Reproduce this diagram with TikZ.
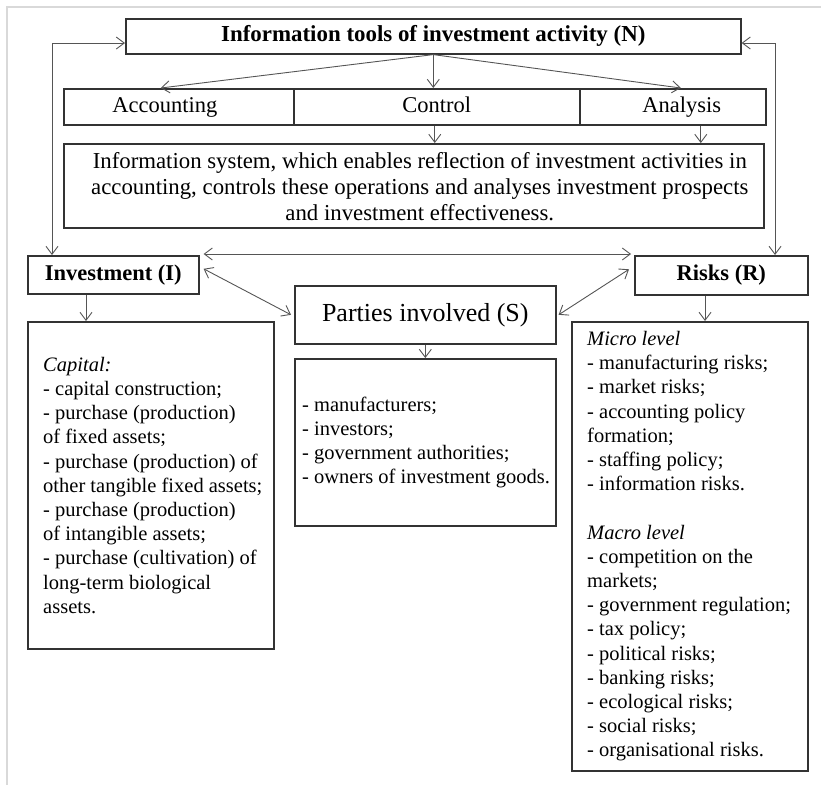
\documentclass[tikz,border=0pt]{standalone}
\usepackage{fontspec}
\setmainfont{Liberation Serif}
\usetikzlibrary{arrows.meta,calc}
\definecolor{boxc}{HTML}{333333}
\definecolor{linec}{HTML}{555555}
\definecolor{framec}{HTML}{D9D9D9}
\begin{document}
\begin{tikzpicture}[x=1pt,y=-1pt,
  box/.style={draw=boxc, line width=1.6pt, rectangle, inner sep=0pt, anchor=north west, text=black},
  oneline/.style={inner sep=0pt, text height=15pt, text depth=4.5pt},
  listtext/.style={anchor=west, inner sep=0pt, align=left, font=\fontsize{20.5}{24.2}\selectfont},
  conn/.style={draw=linec, line width=0.9pt, -{Straight Barb[length=8pt,width=12pt]}},
  conn2/.style={draw=linec, line width=0.9pt, {Straight Barb[length=8pt,width=12pt]}-{Straight Barb[length=8pt,width=12pt]}},
]
\useasboundingbox (0,0) rectangle (821,785);
\draw[framec, line width=2.5pt] (821,7) -- (7,7) -- (7,785);

% top
\node[box, minimum width=615pt, minimum height=35pt] (N) at (125,18) {};
\node[oneline, font=\bfseries\fontsize{22.9}{26}\selectfont] (Nt) at (N.center) {Information tools of investment activity (N)};
\node[box, minimum width=230pt, minimum height=36pt] (acc) at (63,88) {};
\node[box, minimum width=286pt, minimum height=36pt] (ctl) at (293,88) {};
\node[box, minimum width=186pt, minimum height=36pt] (ana) at (579,88) {};
\node[oneline, font=\fontsize{22.5}{26}\selectfont] (acct) at ($(acc.center)+(-14,0)$) {Accounting};
\node[oneline, font=\fontsize{22.5}{26}\selectfont] (ctlt) at (ctl.center) {Control};
\node[oneline, font=\fontsize{22.5}{26}\selectfont] (anat) at ($(ana.center)+(9,0)$) {Analysis};
\node[box, minimum width=700pt, minimum height=84pt] (info) at (63,143) {};
\node[inner sep=0pt, align=center, font=\fontsize{22.8}{25.8}\selectfont] (infot) at ($(info.center)+(6,1)$) {Information system, which enables reflection of investment activities in\\accounting, controls these operations and analyses investment prospects\\and investment effectiveness.};

% middle
\node[box, minimum width=171pt, minimum height=38pt, font=\bfseries\fontsize{22.5}{26}\selectfont] (inv) at (27,255) {Investment (I)};
\node[box, minimum width=173pt, minimum height=39pt, font=\bfseries\fontsize{22.5}{26}\selectfont] (risks) at (634,255) {Risks (R)};
\node[box, minimum width=261pt, minimum height=58pt, font=\fontsize{26}{30}\selectfont] (par) at (294,285) {Parties involved (S)};

% lists
\node[box, minimum width=246pt, minimum height=327pt] (cap) at (27,321) {};
\node[box, minimum width=261pt, minimum height=167pt] (plist) at (294,358) {};
\node[box, minimum width=236pt, minimum height=449pt] (rlist) at (571,321) {};

\node[listtext] (capt) at ($(cap.west)+(16,0)$) {\textit{Capital:}\\- capital construction;\\- purchase (production)\\of fixed assets;\\- purchase (production) of\\other tangible fixed assets;\\- purchase (production)\\of intangible assets;\\- purchase (cultivation) of\\long-term biological\\assets.};
\node[listtext] (plistt) at ($(plist.west)+(8,0)$) {- manufacturers;\\- investors;\\- government authorities;\\- owners of investment goods.};
\node[listtext] (rlistt) at ($(rlist.west)+(16,0)$) {\textit{Micro level}\\- manufacturing risks;\\- market risks;\\- accounting policy\\formation;\\- staffing policy;\\- information risks.\\[24.2pt]\textit{Macro level}\\- competition on the\\markets;\\- government regulation;\\- tax policy;\\- political risks;\\- banking risks;\\- ecological risks;\\- social risks;\\- organisational risks.};

% connectors
\coordinate (lc) at (52,43);
\coordinate (rc) at (775,43);
\draw[conn2] (lc -| N.west) -- (lc) -- (lc |- inv.north);
\draw[conn2] (rc -| N.east) -- (rc) -- (rc |- risks.north);

\draw[conn] (N.south) -- ($(acc.north)+(-18,0)$);
\draw[conn] (N.south) -- (N.south |- ctl.north);
\draw[conn] (N.south) -- ($(ana.north)+(8,0)$);

\coordinate (cd) at ($(ctl.south)+(-2,0)$);
\draw[conn] (cd) -- (cd |- info.north);
\coordinate (ad) at ($(ana.south)+(28,0)$);
\draw[conn] (ad) -- (ad |- info.north);

\draw[conn2] ($(inv.north east)+(4,-1)$) -- ($(risks.north west)+(-3,-1)$);
\draw[conn2] ($(inv.east)+(4,-6)$) -- ($(par.west)+(-3,0)$);
\draw[conn2] ($(risks.west)+(-5,-6)$) -- ($(par.east)+(2,0)$);

\coordinate (idn) at ($(inv.south west)+(59,0)$);
\draw[conn] (idn) -- (idn |- cap.north);
\draw[conn] (par.south) -- (plist.north);
\coordinate (rdn) at ($(risks.south west)+(71,0)$);
\draw[conn] (rdn) -- (rdn |- rlist.north);
\end{tikzpicture}
\end{document}
